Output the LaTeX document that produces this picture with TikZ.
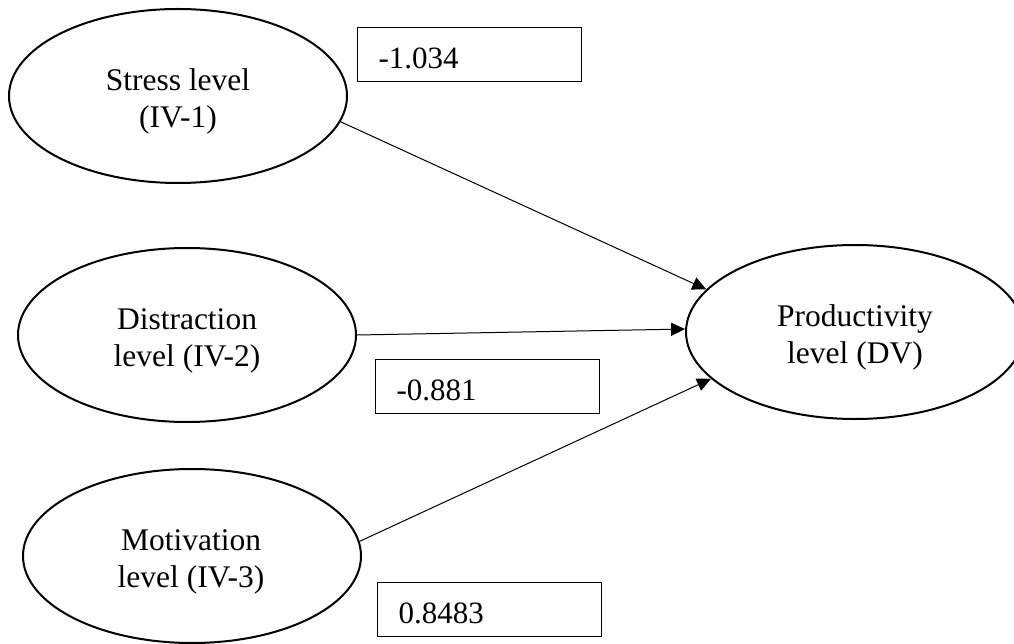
\documentclass[tikz,border=0pt]{standalone}
\usepackage{fontspec}
\setmainfont{Liberation Serif}
\usetikzlibrary{arrows.meta,shapes.geometric}
\begin{document}
\begin{tikzpicture}[x=1pt,y=-1pt,
  var/.style={ellipse,draw,line width=2pt,minimum width=338pt,minimum height=174pt,inner sep=0pt},
  vtext/.style={font=\fontsize{31.5}{37}\selectfont,align=center,inner sep=0pt},
  coef/.style={draw,line width=1.2pt,anchor=north west,minimum height=54pt,text width=182pt,align=left,inner xsep=21pt,inner ysep=0pt,text height=28pt,text depth=0pt,font=\fontsize{31}{37}\selectfont},
  link/.style={line width=1pt,-{Triangle[length=14pt,width=13pt]}}]
\useasboundingbox (0,0) rectangle (1014,644);
\clip (0,0) rectangle (1014,644);
\node[var] (stress) at (178,96) {};
\node[vtext] (stresst) at (178,101.5) {Stress level\\(IV-1)};
\node[var] (distr) at (187,335) {};
\node[vtext] (distrt) at (187,340.5) {Distraction\\level (IV-2)};
\node[var] (motiv) at (192,556) {};
\node[vtext] (motivt) at (191,561.5) {Motivation\\level (IV-3)};
\node[var] (prod) at (855,332) {};
\node[vtext] (prodt) at (855,337.5) {Productivity\\level (DV)};
\node[coef] (c1) at (357,27) {-1.034};
\node[coef] (c2) at (375,359) {-0.881};
\node[coef] (c3) at (377,582) {0.8483};
\draw[link] (stress.-9) -- (prod.164.4);
\draw[link] (distr.-0.7) -- (prod.179.3);
\draw[link] (motiv.5.1) -- (prod.198.6);
\end{tikzpicture}
\end{document}
